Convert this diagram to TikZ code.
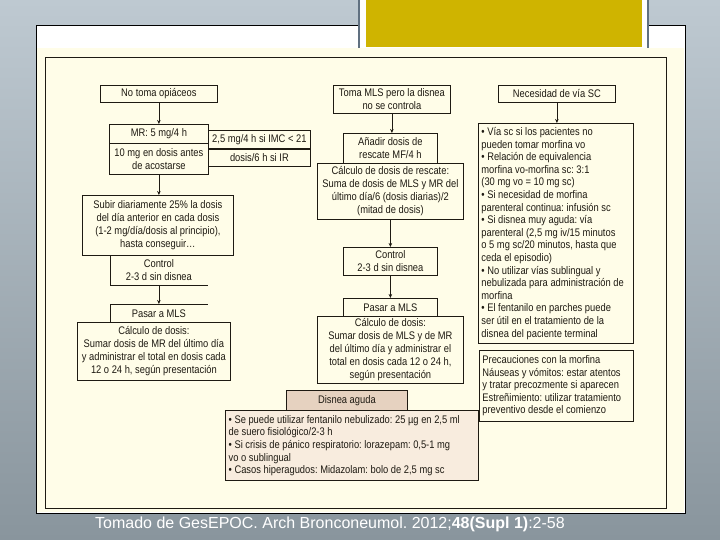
\documentclass[tikz,border=0pt]{standalone}
\usepackage{fontspec}
\setmainfont[FakeStretch=0.85]{Liberation Sans}
\newfontfamily\piefont{Liberation Sans}
\usetikzlibrary{arrows.meta}
\definecolor{crema}{RGB}{255,253,232}
\definecolor{amarillo}{RGB}{207,180,0}
\definecolor{fondoA}{RGB}{190,201,209}
\definecolor{fondoB}{RGB}{137,149,157}
\definecolor{marco}{RGB}{96,112,128}
\definecolor{tinta}{RGB}{30,26,18}
\definecolor{tabAguda}{RGB}{230,210,192}
\definecolor{fondoAguda}{RGB}{248,236,222}
\frenchspacing

\begin{document}
\begin{tikzpicture}[x=1pt,y=-1pt,
    caja/.style={draw=tinta, line width=0.8pt, fill=crema, inner sep=0.5pt, align=center,
        anchor=north west, text=tinta, font=\fontsize{11}{13}\selectfont},
    sinborde/.style={caja, draw=none, fill=none},
    lista/.style={caja, align=flush left, inner sep=3pt, font=\fontsize{11}{12.6}\selectfont},
    tam/.style 2 args={minimum width=#1pt, minimum height=#2pt},
    flecha/.style={draw=tinta, line width=0.8pt, -{Stealth[length=4pt,width=3.5pt]}},
    linea/.style={draw=tinta, line width=0.8pt}]
    \useasboundingbox (0,0) rectangle (720,540);

    % fondo de la diapositiva
    \shade[top color=fondoA, bottom color=fondoB] (0,0) rectangle (720,540);
    \fill[white] (36,26) rectangle (685,513);
    \fill[crema] (37,48) rectangle (684,512);
    \draw[black, line width=1pt] (36,26) rectangle (685,513);
    \fill[white] (358,0) rectangle (649,48);
    \draw[marco, line width=1.5pt] (359,0) -- (359,48) (648,0) -- (648,48);
    \fill[amarillo] (366,0) rectangle (642,47);
    \draw[tinta, line width=0.8pt, fill=crema] (45,57) rectangle (666,508);

    % columna izquierda
    \node[caja, tam={117}{17}] (noToma) at (100,85) {No toma opiáceos};
    \node[caja, tam={99}{19}] (mrDosis) at (109,124) {MR: 5 mg/4 h};
    \node[caja, tam={99}{31}] (mrNoche) at (109,143) {10 mg en dosis antes\\de acostarse};
    \node[caja, tam={102}{18}] (ladoIMC) at (208,130) {2,5 mg/4 h si IMC < 21};
    \node[caja, tam={102}{18}] (ladoIR) at (208,148) {dosis/6 h si IR};
    \draw[linea, line width=2pt] (ladoIMC.south west) -- (ladoIMC.south east);
    \node[caja, tam={151}{60}] (subir) at (82,195) {Subir diariamente 25\% la dosis\\del día anterior en cada dosis\\(1-2 mg/día/dosis al principio),\\hasta conseguir…};
    \node[sinborde, tam={97}{30}] (controlIzq) at (110,255) {Control\\2-3 d sin disnea};
    \draw[linea] (controlIzq.north west) |- (controlIzq.south east);
    \node[sinborde, tam={97}{18}] (pasarIzq) at (110,304) {Pasar a MLS};
    \draw[linea] (pasarIzq.south west) |- (pasarIzq.north east);
    \node[caja, tam={153}{58}] (calculoIzq) at (77,322) {Cálculo de dosis:\\Sumar dosis de MR del último día\\y administrar el total en dosis cada\\12 o 24 h, según presentación};

    % columna central
    \node[caja, tam={117}{28}] (tomaMLS) at (333,85) {Toma MLS pero la disnea\\no se controla};
    \node[caja, tam={94}{30}] (anadir) at (343,133) {Añadir dosis de\\rescate MF/4 h};
    \node[caja, tam={146}{56}] (calculoRes) at (317,163) {Cálculo de dosis de rescate:\\Suma de dosis de MLS y MR del\\último día/6 (dosis diarias)/2\\(mitad de dosis)};
    \node[caja, tam={94}{28}] (controlMed) at (343,247) {Control\\2-3 d sin disnea};
    \node[caja, tam={94}{18}] (pasarMed) at (343,298) {Pasar a MLS};
    \node[caja, tam={146}{67}] (calculoMed) at (317,316) {Cálculo de dosis:\\Sumar dosis de MLS y de MR\\del último día y administrar el\\total en dosis cada 12 o 24 h,\\según presentación};

    % columna derecha
    \node[caja, tam={117}{17}] (necesidad) at (498,85) {Necesidad de vía SC};
    \node[lista, tam={155}{220}, text width=149pt] (viaSC) at (478,123) {• Vía sc si los pacientes no\\pueden tomar morfina vo\\• Relación de equivalencia\\morfina vo-morfina sc: 3:1\\(30 mg vo = 10 mg sc)\\• Si necesidad de morfina\\parenteral continua: infusión sc\\• Si disnea muy aguda: vía\\parenteral (2,5 mg iv/15 minutos\\o 5 mg sc/20 minutos, hasta que\\ceda el episodio)\\• No utilizar vías sublingual y\\nebulizada para administración de\\morfina\\• El fentanilo en parches puede\\ser útil en el tratamiento de la\\disnea del paciente terminal};
    \node[lista, tam={154}{71}, text width=148pt] (precauciones) at (479,350) {Precauciones con la morfina\\Náuseas y vómitos: estar atentos\\y tratar precozmente si aparecen\\Estreñimiento: utilizar tratamiento\\preventivo desde el comienzo};

    % disnea aguda
    \node[caja, fill=tabAguda, tam={121}{20}] (disneaTab) at (286,390) {Disnea aguda};
    \node[lista, fill=fondoAguda, line width=1.3pt, tam={253}{70}, text width=247pt] (disneaTxt) at (225,410) {• Se puede utilizar fentanilo nebulizado: 25 µg en 2,5 ml\\de suero fisiológico/2-3 h\\• Si crisis de pánico respiratorio: lorazepam: 0,5-1 mg\\vo o sublingual\\• Casos hiperagudos: Midazolam: bolo de 2,5 mg sc};

    \draw[flecha] (noToma) -- (mrDosis);
    \draw[flecha] (mrNoche.south) -- (mrNoche.south |- subir.north);
    \draw[flecha] (controlIzq.south) -- (pasarIzq.north);
    \draw[flecha] (tomaMLS.south) -- (tomaMLS.south |- anadir.north);
    \draw[flecha] (calculoRes.south) -- (controlMed.north);
    \draw[flecha] (controlMed) -- (pasarMed);
    \draw[flecha] (necesidad.south) -- (necesidad.south |- viaSC.north);

    \node[text=white, anchor=west, inner sep=0pt, font=\piefont\fontsize{16}{18}\selectfont] (pie) at (95,524) {Tomado de GesEPOC. Arch Bronconeumol. 2012;\textbf{48(Supl 1)}:2-58};
\end{tikzpicture}
\end{document}
